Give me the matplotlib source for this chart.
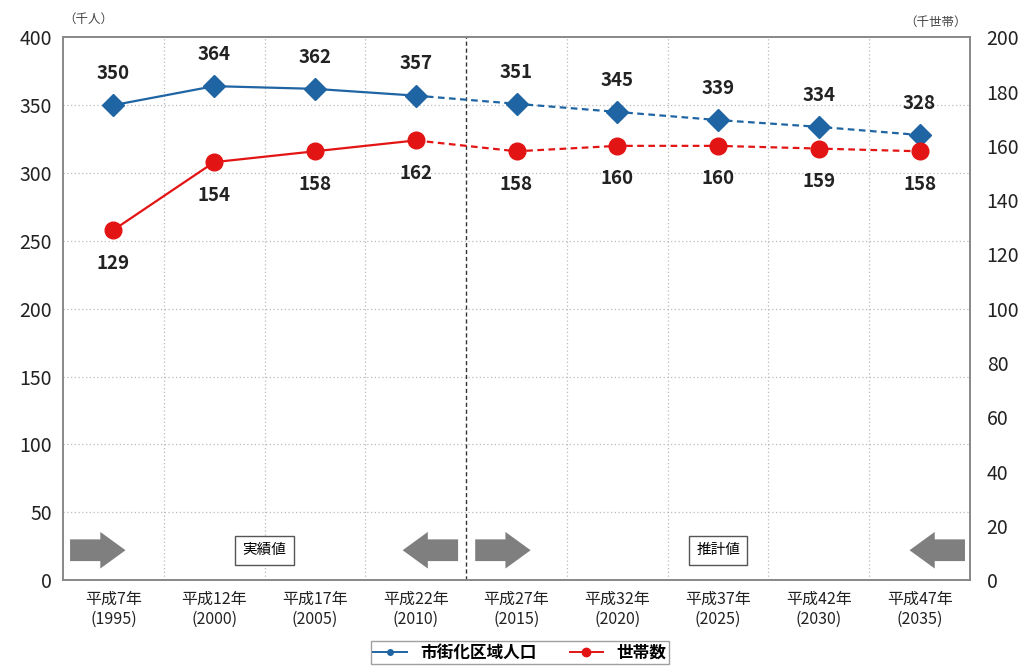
import matplotlib
matplotlib.use("Agg")
import matplotlib.pyplot as plt
from matplotlib.patches import FancyArrow
from matplotlib.lines import Line2D

plt.rcParams['font.family'] = ['Noto Sans CJK JP', 'DejaVu Sans']

categories = ["平成7年\n(1995)", "平成12年\n(2000)", "平成17年\n(2005)", "平成22年\n(2010)",
              "平成27年\n(2015)", "平成32年\n(2020)", "平成37年\n(2025)", "平成42年\n(2030)",
              "平成47年\n(2035)"]
population = [350, 364, 362, 357, 351, 345, 339, 334, 328]
households = [129, 154, 158, 162, 158, 160, 160, 159, 158]
left_ticks = [0, 50, 100, 150, 200, 250, 300, 350, 400]
right_ticks = [0, 20, 40, 60, 80, 100, 120, 140, 160, 180, 200]
actual_count = 4  # first four points are actual values

blue = "#1f64a3"
red = "#e31414"

fig = plt.figure(figsize=(10.23, 6.66), dpi=100)
ax = fig.add_axes([0.0616, 0.129, 0.8866, 0.815])
ax2 = ax.twinx()

x = list(range(len(categories)))
n = actual_count

# population (left axis)
ax.plot(x[:n], population[:n], color=blue, lw=1.6, zorder=3)
ax.plot(x[n-1:], population[n-1:], color=blue, lw=1.6, ls=(0, (3, 2)), zorder=3)
ax.plot(x, population, ls='none', marker='D', ms=11, color=blue, zorder=4)
for xi, v in zip(x, population):
    ax.annotate(str(v), (xi, v), xytext=(0, 16), textcoords='offset points',
                ha='center', va='bottom', fontsize=13.5, fontweight='bold', color='#222222')

# households (right axis)
ax2.plot(x[:n], households[:n], color=red, lw=1.6, zorder=3)
ax2.plot(x[n-1:], households[n-1:], color=red, lw=1.6, ls=(0, (3, 2)), zorder=3)
ax2.plot(x, households, ls='none', marker='o', ms=12, color=red, zorder=4)
for xi, v in zip(x, households):
    ax2.annotate(str(v), (xi, v), xytext=(0, -17), textcoords='offset points',
                 ha='center', va='top', fontsize=13.5, fontweight='bold', color='#222222')

ax.set_xlim(-0.5, len(categories) - 0.5)
ax.set_ylim(0, 400)
ax2.set_ylim(0, 200)
ax.set_yticks(left_ticks)
ax2.set_yticks(right_ticks)
ax.set_xticks(x)
ax.set_xticklabels(categories, fontsize=11.5, color='#222222')
ax.tick_params(axis='both', length=0, labelsize=14, pad=8)
ax.tick_params(axis='x', labelsize=11.5, pad=8)
ax2.tick_params(axis='y', length=0, labelsize=14, pad=12)
for lab in ax.get_yticklabels() + ax2.get_yticklabels():
    lab.set_color('#222222')

# grid
for yv in left_ticks[1:-1]:
    ax.axhline(yv, color='#bbbbbb', lw=0.9, ls=(0, (1, 2)), zorder=1)
for xv in [i + 0.5 for i in range(len(categories) - 1)]:
    if xv == n - 0.5:
        ax.axvline(xv, color='#333333', lw=1.0, ls=(0, (3, 2)), zorder=2)
    else:
        ax.axvline(xv, color='#bbbbbb', lw=0.9, ls=(0, (1, 2)), zorder=1)

for a in (ax, ax2):
    for s in a.spines.values():
        s.set_color('#888888')
        s.set_linewidth(1.2)

# arrows
arrow_kw = dict(width=16, head_width=27, head_length=0.25, length_includes_head=True,
                color='#7f7f7f', lw=0, zorder=3)
def arrow(x0, x1):
    ax.add_patch(FancyArrow(x0, 22, x1 - x0, 0, **arrow_kw))
arrow(-0.43, 0.12)
arrow(3.42, 2.87)
arrow(3.59, 4.14)
arrow(8.45, 7.9)

box_kw = dict(boxstyle='square,pad=0.5', fc='white', ec='#555555', lw=1.0)
ax.text(1.5, 22, "実績値", ha='center', va='center', fontsize=10.5, bbox=box_kw, zorder=4)
ax.text(6.0, 22, "推計値", ha='center', va='center', fontsize=10.5, bbox=box_kw, zorder=4)

fig.text(0.062, 0.962, "（千人）", ha='left', va='bottom', fontsize=9, color='#444444')
fig.text(0.945, 0.957, "（千世帯）", ha='right', va='bottom', fontsize=9, color='#444444')

handles = [Line2D([], [], color=blue, marker='o', ms=4, lw=1.4),
           Line2D([], [], color=red, marker='o', ms=6, lw=1.4)]
leg = fig.legend(handles, ["市街化区域人口", "世帯数"], loc='upper center',
                 bbox_to_anchor=(0.508, 0.037), ncol=2, frameon=True, fontsize=12,
                 handlelength=2.0, columnspacing=2.0, fancybox=False, edgecolor='#888888',
                 borderpad=0.15, borderaxespad=0.0)
for t in leg.get_texts():
    t.set_fontweight('bold')

fig.savefig("out.png", dpi=100)
